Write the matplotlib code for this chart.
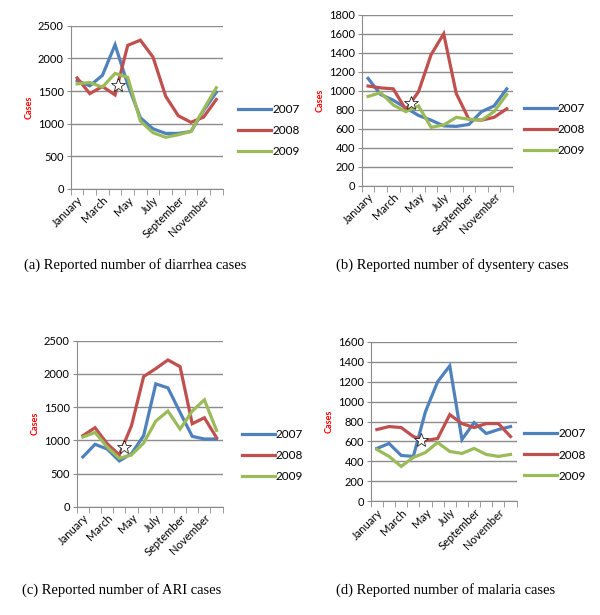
import matplotlib
matplotlib.use('Agg')
import matplotlib.pyplot as plt
import numpy as np

months = ['January', 'February', 'March', 'April', 'May', 'June', 'July',
          'August', 'September', 'October', 'November', 'December']
years = ['2007', '2008', '2009']

# diarrhea
diarrhea_2007 = [1660, 1580, 1740, 2210, 1600, 1090, 920, 850, 850, 880, 1200, 1480]
diarrhea_2008 = [1700, 1460, 1570, 1440, 2200, 2280, 2020, 1420, 1120, 1020, 1100, 1370]
diarrhea_2009 = [1610, 1630, 1560, 1770, 1710, 1040, 860, 790, 830, 880, 1220, 1550]

# dysentery
dysentery_2007 = [1130, 960, 900, 820, 740, 690, 630, 625, 645, 780, 840, 1020]
dysentery_2008 = [1050, 1030, 1020, 800, 990, 1380, 1600, 970, 700, 690, 720, 810]
dysentery_2009 = [940, 980, 850, 780, 840, 615, 640, 720, 700, 690, 780, 960]

# ARI
ari_2007 = [750, 940, 870, 690, 800, 1070, 1850, 1790, 1420, 1060, 1020, 1020]
ari_2008 = [1070, 1190, 950, 780, 1220, 1960, 2080, 2210, 2110, 1250, 1340, 1040]
ari_2009 = [1050, 1120, 900, 730, 780, 960, 1290, 1440, 1170, 1440, 1610, 1150]

# malaria
malaria_2007 = [530, 580, 460, 450, 900, 1200, 1360, 620, 790, 680, 720, 750]
malaria_2008 = [720, 750, 740, 650, 610, 630, 870, 780, 740, 780, 780, 650]
malaria_2009 = [520, 450, 350, 440, 490, 590, 500, 480, 530, 470, 450, 470]

# star annotation (month index, value)
star_a = (3.25, 1600)
star_b = (3.4, 870)
star_c = (3.35, 900)
star_d = (3.6, 620)

colors = ['#4F81BD', '#C0504D', '#9BBB59']
plt.rcParams['font.family'] = ['Lato', 'DejaVu Sans']

fig = plt.figure(figsize=(6, 6.15), dpi=100)

panels = [
    ([0.118, 0.693, 0.253, 0.265], [diarrhea_2007, diarrhea_2008, diarrhea_2009], 2500, 500, star_a,
     '(a) Reported number of diarrhea cases', (0.225, 0.569), (1.10, 0.356)),
    ([0.603, 0.698, 0.252, 0.278], [dysentery_2007, dysentery_2008, dysentery_2009], 1800, 200, star_b,
     '(b) Reported number of dysentery cases', (0.754, 0.569), (1.07, 0.33)),
    ([0.128, 0.176, 0.243, 0.270], [ari_2007, ari_2008, ari_2009], 2500, 500, star_c,
     '(c) Reported number of ARI cases', (0.203, 0.041), (1.13, 0.31)),
    ([0.618, 0.185, 0.243, 0.259], [malaria_2007, malaria_2008, malaria_2009], 1600, 200, star_d,
     '(d) Reported number of malaria cases', (0.743, 0.041), (1.05, 0.29)),
]

x = np.arange(len(months))
for rect, series, ymax, step, star, caption, cap_pos, leg_pos in panels:
    ax = fig.add_axes(rect)
    for vals, c, yr in zip(series, colors, years):
        ax.plot(x, vals, color=c, lw=2.3, label=yr, solid_joinstyle='miter')
    ax.plot(star[0], star[1], marker='*', ms=10, mfc='white', mec='black', mew=0.5, zorder=5)
    ax.set_xlim(-0.5, 11.5)
    ax.set_ylim(0, ymax)
    ax.set_yticks(np.arange(0, ymax + 1, step))
    ax.yaxis.grid(True, color='#8c8c8c', lw=1)
    ax.set_axisbelow(True)
    for s in ['top', 'right']:
        ax.spines[s].set_visible(False)
    ax.spines['left'].set_color('#8c8c8c')
    ax.spines['bottom'].set_color('#8c8c8c')
    ax.set_xticks(np.arange(-0.5, 12, 1), minor=True)
    ax.set_xticks(x[::2])
    ax.set_xticklabels(months[::2], rotation=45, ha='right', rotation_mode='anchor')
    ax.tick_params(axis='x', which='major', length=0, labelsize=8, pad=4)
    ax.tick_params(axis='x', which='minor', length=4, color='#8c8c8c', direction='out')
    ax.tick_params(axis='y', length=3, color='#8c8c8c', labelsize=8, pad=2)
    ax.set_ylabel('Cases', color='red', fontsize=6.5, fontweight='bold', labelpad=3)
    ax.legend(loc='center left', bbox_to_anchor=leg_pos, frameon=False, fontsize=8.5,
              handlelength=2.8, labelspacing=0.85, handletextpad=0.1, borderaxespad=0,
              borderpad=0)
    fig.text(cap_pos[0], cap_pos[1], caption, ha='center', va='center',
             fontsize=10.5, family='Liberation Serif')

fig.savefig('out.png', dpi=100)
